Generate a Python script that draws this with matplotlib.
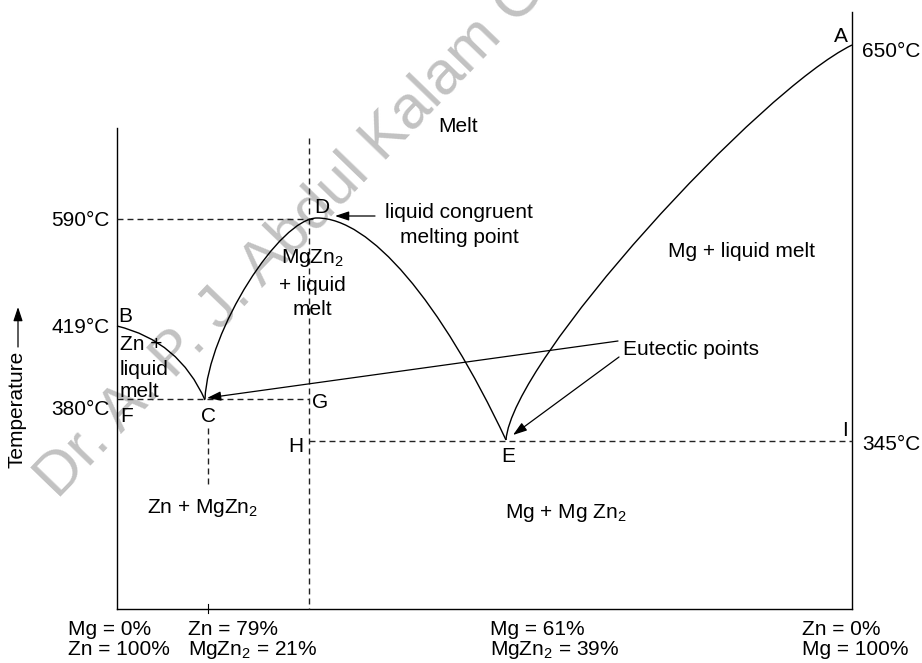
import matplotlib
matplotlib.use('Agg')
import matplotlib.pyplot as plt
from matplotlib.path import Path
from matplotlib.patches import PathPatch

plt.rcParams['font.family'] = ['Liberation Sans', 'DejaVu Sans']
plt.rcParams['mathtext.fontset'] = 'custom'
plt.rcParams['mathtext.rm'] = 'Liberation Sans'
plt.rcParams['mathtext.it'] = 'Liberation Sans'

# diagram frame is schematic: positions are in the frame of the drawing (y grows downward)
# key points of the Mg-Zn diagram
point_names = ['A', 'B', 'C', 'D', 'E']
point_x = [852, 117, 205, 317, 506]
point_y = [45, 326, 399, 218, 440]

# isotherm levels and their labels
temp_labels = ['650°C', '590°C', '419°C', '380°C', '345°C']
temp_y = [57, 226, 333, 415, 450]

# liquidus curves (bezier control points)
curve_BC = [(117, 326), (179, 341), (205, 400)]
curve_CD = [(205, 399), (208, 330), (280, 218), (317, 218)]
curve_DE = [(317, 218), (370, 218), (440, 300), (506, 440)]
curve_EA = [(506, 440), (512, 360), (760, 90), (852, 45)]

# letters next to points
letters = ['A', 'B', 'C', 'D', 'E', 'F', 'G', 'H', 'I']
letter_x = [841, 125, 208, 322, 508, 127, 320, 296, 845]
letter_y = [42, 322, 422, 213, 462, 422, 408, 452, 436]

# composition labels along the bottom
comp_top = ['Mg = 0%', 'Zn = 79%', 'Mg = 61%', 'Zn = 0%']
comp_bot = ['Zn = 100%', 'MgZn$_\\mathrm{2}$ = 21%', 'MgZn$_\\mathrm{2}$ = 39%', 'Mg = 100%']
comp_x = [68, 188, 490, 802]

FS = 15
DASH = (4.3, 2.9)

fig = plt.figure(figsize=(9.22, 6.63), dpi=100)
ax = fig.add_axes([0, 0, 1, 1])
ax.set_xlim(0, 922)
ax.set_ylim(663, 0)
ax.axis('off')

# watermark
ax.text(58, 500, 'Dr. A. P. J. Abdul Kalam Govt. College', fontsize=44, color='#c2c2c2',
        rotation=46, rotation_mode='anchor', ha='left', va='baseline', zorder=0)


def bezier(pts):
    codes = [Path.MOVETO] + [Path.CURVE3 if len(pts) == 3 else Path.CURVE4] * (len(pts) - 1)
    return PathPatch(Path(pts, codes), fill=False, lw=1.0, edgecolor='black', zorder=3)


for c in [curve_BC, curve_CD, curve_DE, curve_EA]:
    ax.add_patch(bezier(c))

# frame lines
ax.plot([117, 117], [128, 609], color='black', lw=1.0)
ax.plot([117, 852], [609, 609], color='black', lw=1.0)
ax.plot([852, 852], [12, 609], color='black', lw=1.0)
ax.plot([208, 208], [604, 613], color='black', lw=0.8)

# dashed guide lines
dkw = dict(color='#222222', lw=1.0, dashes=DASH)
ax.plot([117, point_x[3]], [point_y[3] + 1, point_y[3] + 1], **dkw)
ax.plot([309, 309], [138, 609], **dkw)
ax.plot([117, 309], [point_y[2], point_y[2]], **dkw)
ax.plot([309, 852], [441, 441], **dkw)
ax.plot([208, 208], [428, 486], **dkw)

# temperature labels
for i, t in enumerate(temp_labels):
    if i in (0, 4):
        ax.text(862, temp_y[i], t, fontsize=FS, ha='left', va='baseline')
    else:
        ax.text(110, temp_y[i], t, fontsize=FS, ha='right', va='baseline')

for i, l in enumerate(letters):
    ax.text(letter_x[i], letter_y[i], l, fontsize=FS, ha='center', va='baseline')

# region labels
ax.text(438, 132, 'Melt', fontsize=FS, ha='left', va='baseline')
ax.text(668, 257, 'Mg + liquid melt', fontsize=FS, ha='left', va='baseline')
for txt, yy in zip(['Zn +', 'liquid', 'melt'], [350, 375, 397]):
    ax.text(120, yy, txt, fontsize=FS, ha='left', va='baseline')
for txt, yy in zip(['MgZn$_\\mathrm{2}$', '+ liquid', 'melt'], [263, 291, 315]):
    ax.text(312, yy, txt, fontsize=FS, ha='center', va='baseline')
for txt, yy in zip(['liquid congruent', 'melting point'], [218, 243]):
    ax.text(459, yy, txt, fontsize=FS, ha='center', va='baseline')
ax.text(623, 355, 'Eutectic points', fontsize=FS, ha='left', va='baseline')
ax.text(147, 513, 'Zn + MgZn$_\\mathrm{2}$', fontsize=FS, ha='left', va='baseline')
ax.text(505, 518, 'Mg + Mg Zn$_\\mathrm{2}$', fontsize=FS, ha='left', va='baseline')

for i in range(len(comp_x)):
    ax.text(comp_x[i], 635, comp_top[i], fontsize=FS, ha='left', va='baseline')
    ax.text(comp_x[i], 655, comp_bot[i], fontsize=FS, ha='left', va='baseline')

# axis title with arrow
ax.text(17, 468, 'Temperature', fontsize=FS, rotation=90, ha='left', va='center',
        rotation_mode='anchor')

akw = dict(arrowstyle='-|>,head_length=0.6,head_width=0.2', color='black', lw=0.9,
           mutation_scale=14, shrinkA=0, shrinkB=0)
ax.annotate('', xy=(18, 307), xytext=(18, 347), arrowprops=akw)
ax.annotate('', xy=(335, 216), xytext=(375, 216), arrowprops=akw)
ax.annotate('', xy=(207, 398), xytext=(618, 341), arrowprops=akw)
ax.annotate('', xy=(513, 435), xytext=(619, 357), arrowprops=akw)

fig.savefig('out.png', dpi=100)
